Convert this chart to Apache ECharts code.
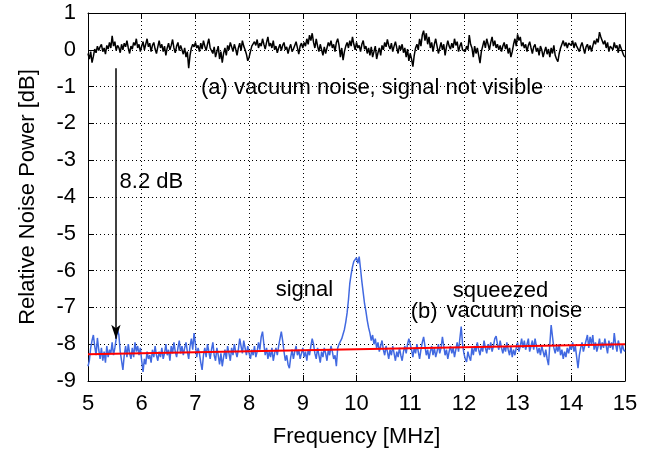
<!DOCTYPE html>
<html>
<head>
<meta charset="utf-8">
<script src="https://cdn.jsdelivr.net/npm/echarts@6/dist/echarts.min.js"></script>
<style>
html,body{margin:0;padding:0;background:#fff;}
#chart{width:655px;height:454px;}
</style>
</head>
<body>
<div id="chart"></div>
<script>
// Frequency sampling of the traces (MHz)
const freqStart = 5.0;
const freqStep = 0.025;

// (a) vacuum noise trace [dB]
const vacuumNoise = [
-0.10,-0.25,-0.05,-0.35,-0.18,0.02,-0.08,0.10,-0.02,0.08,
0.15,-0.05,0.05,-0.12,0.12,0.02,0.20,0.05,0.38,0.10,
0.22,-0.02,0.12,0.06,-0.08,0.15,0.00,0.18,0.08,0.25,
0.05,-0.10,0.10,0.02,0.20,0.12,0.30,0.05,0.15,-0.05,
0.10,0.22,0.00,0.15,0.30,0.08,0.18,-0.05,0.12,0.20,
0.02,-0.10,0.08,0.25,0.05,0.15,-0.05,0.10,-0.15,0.05,
0.18,0.00,0.12,0.28,0.05,-0.08,0.10,0.20,-0.02,0.12,
0.00,-0.12,0.05,-0.20,-0.05,-0.50,-0.15,0.05,0.15,0.08,
0.20,0.05,0.12,-0.05,0.18,0.02,0.25,0.10,-0.02,0.15,
0.30,0.05,0.10,-0.10,0.08,-0.20,-0.05,0.10,-0.25,-0.05,
-0.35,-0.10,0.05,-0.15,0.12,0.00,0.20,0.08,-0.05,0.15,
0.02,-0.15,0.05,0.18,-0.02,0.25,0.10,0.00,-0.12,-0.30,
-0.20,-0.05,0.10,0.05,0.22,0.12,0.28,0.05,0.18,0.10,
0.30,0.15,0.02,0.20,0.35,0.10,0.18,0.05,0.25,0.00,
0.10,-0.08,0.05,0.15,-0.02,0.12,0.20,0.00,0.08,-0.10,
0.05,0.15,-0.05,0.02,0.12,0.22,0.05,-0.12,0.10,0.18,
0.05,0.20,0.10,0.30,0.15,0.40,0.25,0.45,0.20,0.05,
0.30,0.10,-0.05,0.15,0.00,-0.15,0.08,-0.10,0.05,0.20,
0.10,0.25,0.05,0.15,-0.05,0.20,0.30,0.12,-0.20,0.05,
-0.28,-0.05,0.10,0.20,0.05,0.25,0.10,0.35,0.15,0.00,
0.20,0.05,0.12,-0.05,0.15,0.25,0.02,0.10,-0.10,0.05,
-0.15,0.08,-0.20,-0.05,0.10,-0.25,-0.08,0.05,-0.15,0.12,
0.00,0.20,0.08,0.28,0.12,0.02,0.18,-0.05,0.10,0.22,
0.05,-0.10,0.12,0.00,0.15,-0.08,0.05,-0.20,0.02,-0.30,
-0.10,-0.25,-0.46,-0.15,0.05,0.15,0.00,0.30,0.10,0.40,
0.52,0.25,0.45,0.15,0.35,0.05,0.20,-0.05,0.15,0.30,
0.10,-0.10,0.05,0.20,0.00,0.15,-0.15,0.08,0.25,0.10,
0.02,0.18,0.05,0.30,0.12,0.22,-0.05,0.10,0.20,0.00,
0.05,-0.05,0.10,0.00,0.40,0.15,0.05,-0.20,0.10,-0.10,
0.05,-0.15,-0.36,-0.05,0.10,0.25,0.05,0.30,0.15,0.00,
0.20,0.35,0.10,0.25,0.05,0.15,0.00,0.12,-0.05,0.10,
0.20,0.02,0.15,-0.10,0.05,-0.20,-0.05,0.15,0.30,0.10,
0.42,0.25,0.35,0.10,0.20,0.05,0.15,-0.05,0.12,0.22,
0.05,-0.10,0.08,0.15,-0.05,0.05,-0.15,0.10,0.00,-0.20,
-0.05,0.08,-0.12,0.02,-0.20,0.05,-0.10,0.12,-0.15,-0.25,
-0.32,-0.10,0.05,0.15,0.25,0.10,0.20,0.05,0.18,0.22,
0.12,0.25,0.05,0.20,0.10,0.15,-0.05,0.10,0.20,0.05,
-0.10,0.08,0.15,0.00,0.12,-0.05,0.10,0.25,0.15,0.30,
0.20,0.48,0.35,0.40,0.15,0.25,0.05,0.20,-0.05,0.10,
0.15,0.00,0.20,0.05,0.12,-0.08,0.15,0.05,0.10,-0.15,
-0.20
];

// (b) squeezed vacuum noise with signal [dB]
const squeezedNoise = [
-8.60,-8.45,-8.10,-7.90,-7.75,-8.05,-8.30,-7.83,-8.15,-8.40,
-8.10,-8.45,-8.20,-8.50,-8.05,-8.35,-8.15,-8.25,-7.95,-8.30,
-8.10,-7.85,-7.60,-7.75,-8.20,-8.45,-8.70,-8.30,-8.05,-8.35,
-8.00,-8.25,-8.40,-8.10,-8.35,-7.95,-8.20,-8.05,-8.30,-8.10,
-8.45,-8.75,-8.40,-8.55,-8.20,-8.40,-8.30,-8.50,-8.15,-8.35,
-8.05,-8.30,-8.45,-8.20,-8.35,-8.10,-8.40,-8.25,-8.00,-8.30,
-8.15,-8.45,-8.05,-8.25,-7.95,-8.20,-8.35,-8.10,-7.90,-8.25,
-8.05,-8.30,-8.10,-7.95,-8.20,-8.40,-8.05,-7.85,-8.15,-7.70,
-8.00,-8.35,-8.10,-8.25,-8.50,-8.70,-8.30,-8.10,-8.35,-8.00,
-8.20,-8.40,-8.15,-7.95,-8.30,-8.45,-8.10,-8.30,-8.55,-8.25,
-8.60,-8.35,-8.15,-8.40,-8.05,-8.25,-8.45,-8.10,-8.30,-8.00,
-8.20,-8.35,-8.15,-7.85,-8.05,-8.25,-7.90,-8.10,-8.30,-8.05,
-8.25,-8.40,-8.15,-8.30,-8.05,-8.35,-8.20,-7.95,-8.15,-7.80,
-7.66,-8.00,-8.30,-8.10,-8.40,-8.20,-8.35,-8.10,-8.45,-8.25,
-8.10,-8.30,-8.05,-7.85,-7.66,-7.90,-8.20,-8.45,-8.30,-8.55,
-8.65,-8.35,-8.15,-8.40,-8.20,-8.05,-8.30,-8.15,-8.40,-8.25,
-8.10,-8.35,-8.20,-8.45,-8.15,-8.30,-8.05,-7.85,-8.00,-8.25,
-8.40,-8.10,-8.30,-8.50,-8.20,-8.35,-8.10,-8.25,-8.45,-8.15,
-8.30,-8.05,-8.20,-8.40,-8.30,-8.60,-8.10,-8.00,-7.95,-7.85,
-7.80,-7.60,-7.40,-7.15,-6.80,-6.35,-6.10,-5.90,-5.75,-5.80,
-5.65,-5.80,-5.62,-5.95,-6.30,-6.60,-6.90,-7.10,-7.35,-7.55,
-7.70,-7.90,-7.75,-8.00,-7.85,-8.10,-7.95,-8.20,-8.05,-7.90,
-8.15,-8.30,-8.05,-8.20,-8.40,-8.15,-8.30,-8.05,-8.25,-8.45,
-8.20,-8.35,-8.10,-8.30,-8.45,-8.20,-8.05,-8.25,-8.00,-7.85,
-7.90,-8.15,-8.35,-8.10,-8.25,-8.00,-8.20,-8.40,-8.15,-7.95,
-7.80,-8.05,-8.30,-8.15,-8.40,-8.20,-8.05,-8.30,-8.10,-8.35,
-8.20,-8.00,-8.25,-8.10,-7.80,-8.05,-8.30,-8.15,-8.40,-8.20,
-8.05,-8.25,-8.10,-8.35,-8.15,-7.95,-8.20,-7.85,-7.52,-8.00,
-8.25,-8.40,-8.48,-8.20,-8.35,-8.45,-8.10,-8.30,-8.05,-8.20,
-7.95,-8.15,-8.30,-8.05,-8.20,-7.90,-8.10,-8.25,-8.00,-8.15,
-7.95,-8.20,-8.05,-7.85,-7.78,-8.00,-8.15,-7.90,-8.10,-8.25,
-8.05,-8.20,-7.95,-8.15,-8.30,-8.05,-8.35,-8.15,-8.30,-8.10,
-7.95,-8.20,-8.05,-7.85,-8.10,-7.90,-8.15,-8.00,-7.85,-8.20,
-8.05,-7.90,-8.15,-7.85,-8.05,-8.25,-8.10,-8.30,-8.05,-8.20,
-8.35,-8.15,-8.40,-8.57,-8.00,-7.48,-7.80,-8.10,-8.25,-8.05,
-8.20,-8.00,-8.30,-8.15,-8.40,-8.20,-8.35,-8.10,-8.25,-8.05,
-8.15,-7.95,-8.20,-8.05,-8.35,-8.65,-8.30,-8.10,-7.95,-8.20,
-8.05,-7.90,-7.75,-8.10,-7.80,-8.00,-7.75,-8.15,-7.95,-8.20,
-8.05,-7.85,-8.15,-7.95,-8.10,-7.85,-8.05,-8.25,-7.90,-8.10,
-7.95,-8.15,-7.70,-8.00,-8.20,-7.90,-8.05,-8.25,-8.00,-8.15,
-8.20
];

// Linear fit of squeezed noise level: [freq, dB]
const fitFreq = [5, 15];
const fitLevel = [-8.27, -8.00];

// Arrow showing 8.2 dB reduction: [freq, dB] start and end
const arrowFreq = 5.52;
const arrowFrom = -0.5;
const arrowTo = -7.85;

// Axis ticks
const xTicks = [5, 6, 7, 8, 9, 10, 11, 12, 13, 14, 15];
const yTicks = [1, 0, -1, -2, -3, -4, -5, -6, -7, -8, -9];

// Text annotations (data coordinates of text centre)
const annotations = [
  { text: '(a) vacuum noise, signal not visible', x: 10.29, y: -1.04 },
  { text: '8.2 dB', x: 6.18, y: -3.59 },
  { text: 'signal', x: 9.03, y: -6.53 },
  { text: '(b)', x: 11.26, y: -7.13 },
  { text: 'squeezed', x: 12.68, y: -6.55 },
  { text: 'vacuum noise', x: 12.94, y: -7.10 }
];

const FONT = '"Liberation Sans", Arial, Helvetica, sans-serif';
const FS = 22;

const toXY = arr => arr.map((v, i) => [freqStart + i * freqStep, v]);

const chart = echarts.init(document.getElementById('chart'), null, { renderer: 'canvas' });

const axisCommon = {
  type: 'value',
  axisLine: { show: true, onZero: false, lineStyle: { color: '#000', width: 1 } },
  axisTick: { show: true, inside: true, length: 6, lineStyle: { color: '#000', width: 1 } },
  splitLine: { show: false },
  minorTick: { show: false }
};

const option = {
  animation: false,
  backgroundColor: '#fff',
  grid: { left: 88, top: 13, width: 537, height: 368, containLabel: false },
  xAxis: [
    Object.assign({}, axisCommon, {
      position: 'bottom',
      min: xTicks[0], max: xTicks[xTicks.length - 1], interval: 1,
      name: 'Frequency [MHz]', nameLocation: 'middle', nameGap: 45,
      nameTextStyle: { fontFamily: FONT, fontSize: FS, color: '#000' },
      axisLabel: { show: true, margin: 12, fontFamily: FONT, fontSize: FS, color: '#000' },
      splitLine: { show: true, lineStyle: { color: '#000', width: 1, type: [1, 3] } }
    }),
    Object.assign({}, axisCommon, {
      position: 'top',
      min: xTicks[0], max: xTicks[xTicks.length - 1], interval: 1,
      axisLabel: { show: false }
    })
  ],
  yAxis: [
    Object.assign({}, axisCommon, {
      position: 'left',
      min: yTicks[yTicks.length - 1], max: yTicks[0], interval: 1,
      name: 'Relative Noise Power [dB]', nameLocation: 'middle', nameGap: 49,
      nameTextStyle: { fontFamily: FONT, fontSize: FS, color: '#000' },
      axisLabel: { show: true, margin: 12, fontFamily: FONT, fontSize: FS, color: '#000' },
      splitLine: { show: true, lineStyle: { color: '#000', width: 1, type: [1, 3] } }
    }),
    Object.assign({}, axisCommon, {
      position: 'right',
      min: yTicks[yTicks.length - 1], max: yTicks[0], interval: 1,
      axisLabel: { show: false }
    })
  ],
  series: [
    {
      type: 'line', name: 'vacuum', data: toXY(vacuumNoise),
      showSymbol: false, symbol: 'none',
      lineStyle: { color: '#000', width: 1.5 },
      z: 3,
      markLine: {
        silent: true,
        symbol: ['none', 'arrow'],
        symbolSize: [7, 14],
        label: { show: false },
        lineStyle: { color: '#000', width: 1.5, type: 'solid' },
        data: [[{ coord: [arrowFreq, arrowFrom] }, { coord: [arrowFreq, arrowTo] }]]
      }
    },
    {
      type: 'line', name: 'squeezed', data: toXY(squeezedNoise),
      showSymbol: false, symbol: 'none',
      lineStyle: { color: '#4169e1', width: 1.5 },
      z: 3
    },
    {
      type: 'line', name: 'fit', data: fitFreq.map((f, i) => [f, fitLevel[i]]),
      showSymbol: false, symbol: 'none',
      lineStyle: { color: '#ff0000', width: 2 },
      z: 4
    }
  ]
};

chart.setOption(option);

// Place text annotations via the chart's own coordinate conversion
chart.setOption({
  graphic: annotations.map(a => {
    const p = chart.convertToPixel({ xAxisIndex: 0, yAxisIndex: 0 }, [a.x, a.y]);
    return {
      type: 'text', x: p[0], y: p[1], z: 100, silent: true,
      style: {
        text: a.text, fill: '#000', font: FS + 'px ' + FONT,
        textAlign: 'center', textVerticalAlign: 'middle'
      }
    };
  })
});
</script>
</body>
</html>
